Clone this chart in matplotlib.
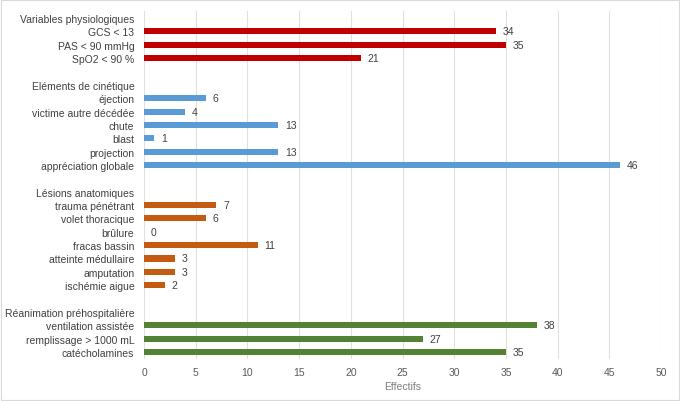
import numpy as np
import matplotlib.pyplot as plt

plt.rcParams['font.family'] = ['Liberation Sans', 'DejaVu Sans']

# groupes et valeurs
groups = ["Variables physiologiques", "Eléments de cinétique",
          "Lésions anatomiques", "Réanimation préhospitalière"]
physio_labels = ["GCS < 13", "PAS < 90 mmHg", "SpO2 < 90 %"]
physio_vals = [34, 35, 21]
cinet_labels = ["éjection", "victime autre décédée", "chute", "blast",
                "projection", "appréciation globale"]
cinet_vals = [6, 4, 13, 1, 13, 46]
lesion_labels = ["trauma pénétrant", "volet thoracique", "brûlure",
                 "fracas bassin", "atteinte médullaire", "amputation",
                 "ischémie aigue"]
lesion_vals = [7, 6, 0, 11, 3, 3, 2]
rea_labels = ["ventilation assistée", "remplissage > 1000 mL", "catécholamines"]
rea_vals = [38, 27, 35]
colors = ["#C00000", "#5B9BD5", "#C55A11", "#548235"]

fig = plt.figure(figsize=(6.8, 4.02), dpi=100)
ax = fig.add_axes([0.2118, 0.1052, 0.7603, 0.8642])

labels = []
row = 0
sets = [(physio_labels, physio_vals), (cinet_labels, cinet_vals),
        (lesion_labels, lesion_vals), (rea_labels, rea_vals)]
for gi, (lbls, vals) in enumerate(sets):
    if gi > 0:
        labels.append("")
        row += 1
    labels.append(groups[gi])
    row += 1
    ys = np.arange(row, row + len(vals))
    ax.barh(ys, vals, height=0.45, color=colors[gi], zorder=3)
    for y, v in zip(ys, vals):
        ax.text(v + 0.65, y, str(v), va='center', ha='left',
                fontsize=7.5, color='#404040')
    labels.extend(lbls)
    row += len(vals)

ax.set_yticks(range(len(labels)))
ax.set_yticklabels(labels, fontsize=7.5, color='#404040')
ax.set_ylim(len(labels) - 0.5, -0.5)
ax.set_xlim(0, 50)
ax.set_xticks(range(0, 51, 5))
ax.tick_params(axis='x', labelsize=7.5, labelcolor='#595959', length=0, pad=6)
ax.tick_params(axis='y', length=0, pad=7)
ax.grid(axis='x', color='#E0E0E0', linewidth=0.8, zorder=0)
for s in ax.spines.values():
    s.set_visible(False)
ax.set_xlabel("Effectifs", fontsize=7.5, color='#7F7F7F', labelpad=3)

fig.patches.append(plt.Rectangle((0.002, 0.003), 0.996, 0.994, transform=fig.transFigure,
                                 fill=False, edgecolor='#D9D9D9', linewidth=0.8))

plt.savefig("out.png", dpi=100)
